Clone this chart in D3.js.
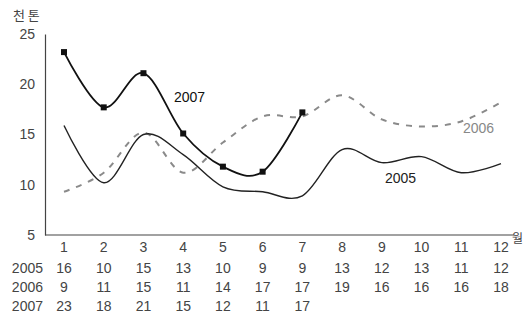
<!DOCTYPE html>
<html>
<head>
<meta charset="utf-8">
<script src="https://cdn.jsdelivr.net/npm/d3@7"></script>
<style>
  body { margin: 0; background: #fff; }
  svg text { font-family: "Liberation Sans", Arial, sans-serif; }
</style>
</head>
<body>
<svg id="drawing_region"></svg>
<script>
// months on the x axis
const months = [1,2,3,4,5,6,7,8,9,10,11,12];
const yticks = [5,10,15,20,25];

// values plotted
const line2005 = [15.9,10.2,15.0,13.0,9.8,9.3,8.9,13.5,12.2,12.8,11.2,12.1];
const line2006 = [9.3,11.2,15.2,11.2,14.2,16.8,16.8,18.9,16.5,15.8,16.3,18.2];
const line2007 = [23.2,17.7,21.1,15.1,11.8,11.3,17.2];

// table under the chart
const years = ['2005','2006','2007'];
const table2005 = [16,10,15,13,10,9,9,13,12,13,11,12];
const table2006 = [9,11,15,11,14,17,17,19,16,16,16,18];
const table2007 = [23,18,21,15,12,11,17];

const width = 528, height = 316;
const svg = d3.select('#drawing_region')
    .attr('width', width)
    .attr('height', height);

const xscale = d3.scalePoint()
    .domain(months)
    .range([64, 501]);

const yscale = d3.scaleLinear()
    .domain([5, 25])
    .range([235, 34]);

// y axis
const yaxis = d3.axisLeft(yscale)
    .tickValues(yticks)
    .tickSize(0)
    .tickPadding(10);
const yaxis_group = svg.append('g')
    .attr('transform', 'translate(45,0)')
    .call(yaxis);
yaxis_group.select('.domain').attr('stroke', '#444').attr('stroke-width', 1.2);
yaxis_group.selectAll('text')
    .style('font-size', '14px')
    .style('font-family', '"Liberation Sans", Arial, sans-serif')
    .attr('fill', '#444');

// x axis line
svg.append('line')
    .attr('x1', 45).attr('x2', 514)
    .attr('y1', yscale(5)).attr('y2', yscale(5))
    .attr('stroke', '#444').attr('stroke-width', 1.2);

// month labels
svg.append('g').selectAll('text')
    .data(months)
    .enter().append('text')
    .attr('x', d => xscale(d))
    .attr('y', 252)
    .attr('text-anchor', 'middle')
    .style('font-size', '14px')
    .attr('fill', '#444')
    .text(d => d);

svg.append('text')
    .attr('x', 512).attr('y', 243)
    .style('font-size', '12px')
    .style('font-family', '"Noto Sans CJK KR", sans-serif')
    .attr('fill', '#444')
    .text('월');

svg.append('text')
    .attr('x', 13).attr('y', 20)
    .style('font-size', '13px')
    .style('font-family', '"Noto Sans CJK KR", sans-serif')
    .attr('fill', '#444')
    .text('천 톤');

// lines
const line = d3.line()
    .x((d, i) => xscale(months[i]))
    .y(d => yscale(d))
    .curve(d3.curveCardinal.tension(0));

svg.append('path')
    .datum(line2006)
    .attr('d', line)
    .attr('fill', 'none')
    .attr('stroke', '#8a8a8a')
    .attr('stroke-width', 2)
    .attr('stroke-dasharray', '6,7');

svg.append('path')
    .datum(line2005)
    .attr('d', line)
    .attr('fill', 'none')
    .attr('stroke', '#222')
    .attr('stroke-width', 1.4);

svg.append('path')
    .datum(line2007)
    .attr('d', line)
    .attr('fill', 'none')
    .attr('stroke', '#111')
    .attr('stroke-width', 1.8);

svg.append('g').selectAll('rect')
    .data(line2007)
    .enter().append('rect')
    .attr('x', (d, i) => xscale(months[i]) - 3)
    .attr('y', d => yscale(d) - 3)
    .attr('width', 6).attr('height', 6)
    .attr('fill', '#111');

// series labels
svg.append('text').attr('x', 174).attr('y', 102)
    .style('font-size', '14px').attr('fill', '#111').text('2007');
svg.append('text').attr('x', 463).attr('y', 133)
    .style('font-size', '14px').attr('fill', '#888').text('2006');
svg.append('text').attr('x', 385).attr('y', 183)
    .style('font-size', '14px').attr('fill', '#222').text('2005');

// table
const rows = [table2005, table2006, table2007];
const rowY = [273, 292, 311];
rows.forEach((row, r) => {
    svg.append('text')
        .attr('x', 43).attr('y', rowY[r])
        .attr('text-anchor', 'end')
        .style('font-size', '14px')
        .attr('fill', '#444')
        .text(years[r]);
    svg.append('g').selectAll('text')
        .data(row)
        .enter().append('text')
        .attr('x', (d, i) => xscale(months[i]))
        .attr('y', rowY[r])
        .attr('text-anchor', 'middle')
        .style('font-size', '14px')
        .attr('fill', '#444')
        .text(d => d);
});
</script>
</body>
</html>
